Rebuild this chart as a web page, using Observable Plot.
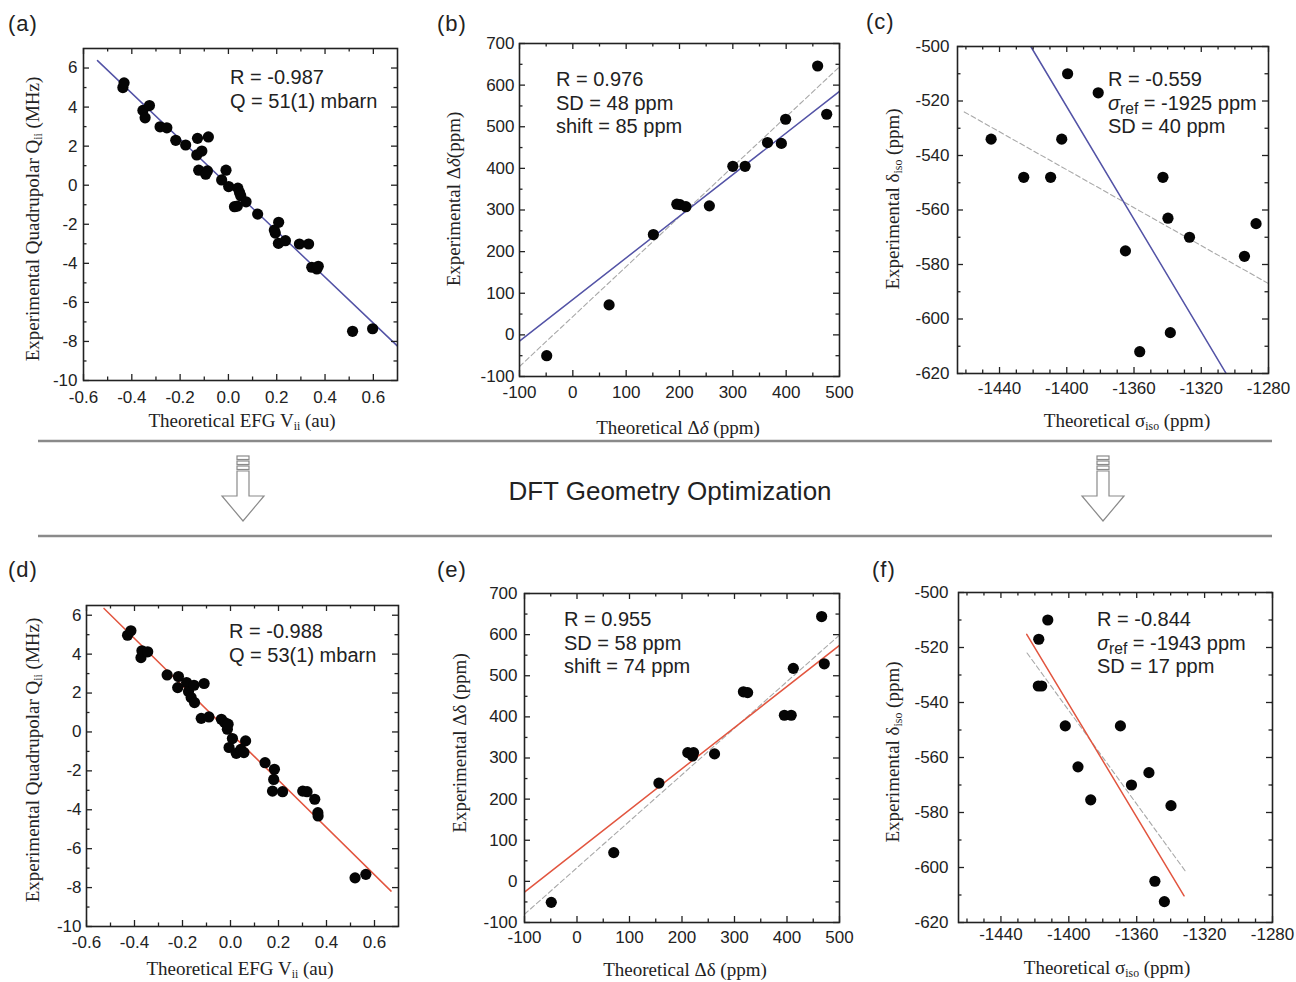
<!DOCTYPE html>
<html>
<head>
<meta charset="utf-8">
<script src="https://cdn.jsdelivr.net/npm/d3@7"></script>
<script src="https://cdn.jsdelivr.net/npm/@observablehq/plot@0.6"></script>
<style>
  html, body { margin: 0; padding: 0; background: #fff; }
  #fig { position: relative; width: 1296px; height: 982px; overflow: hidden;
         font-family: "Liberation Sans", Arial, sans-serif; color: #222; }
  .abs { position: absolute; white-space: nowrap; line-height: 1; }
  .ttl { font-family: "Liberation Serif", "Times New Roman", serif; font-size: 19px; }
  .ann { font-size: 20px; line-height: 23.5px; }
  .pl  { font-size: 22px; letter-spacing: 1px; }
  .c   { transform: translate(-50%, -50%); }
  .rot { transform: translate(-50%, -50%) rotate(-90deg); }
  sub  { font-size: 0.62em; vertical-align: -0.3em; line-height: 0; }
  .ann sub { font-size: 0.78em; vertical-align: -0.25em; }
</style>
</head>
<body>
<div id="fig"></div>
<script>
// ---- Tick values -------------------------------------------------------
const efgMajor = [-0.6, -0.4, -0.2, 0, 0.2, 0.4, 0.6];
const efgMinor = [-0.5, -0.3, -0.1, 0.1, 0.3, 0.5];
const quadMajor = [-10, -8, -6, -4, -2, 0, 2, 4, 6];
const quadMinor = [-9, -7, -5, -3, -1, 1, 3, 5];
const thShiftMajor = [-100, 0, 100, 200, 300, 400, 500];
const thShiftMinor = [-50, 50, 150, 250, 350, 450];
const expShiftMajor = [-100, 0, 100, 200, 300, 400, 500, 600, 700];
const expShiftMinor = [-50, 50, 150, 250, 350, 450, 550, 650];
const sigmaMajor = [-1440, -1400, -1360, -1320, -1280];
const sigmaMinor = [-1460, -1450, -1430, -1420, -1410, -1390, -1380, -1370, -1350, -1340, -1330, -1310, -1300, -1290];
const deltaMajor = [-620, -600, -580, -560, -540, -520, -500];
const deltaMinor = [-610, -590, -570, -550, -530, -510];

// ---- (a) quadrupolar couplings vs EFG, initial geometry -------------------
const efgA = [-0.437, -0.432, -0.354, -0.345, -0.327, -0.283, -0.255, -0.218, -0.177, -0.128,
  -0.131, -0.110, -0.123, -0.087, -0.094, -0.083, -0.028, -0.010, 0.001, 0.025,
  0.037, 0.039, 0.046, 0.051, 0.073, 0.121, 0.194, 0.190, 0.208, 0.207,
  0.236, 0.294, 0.332, 0.345, 0.366, 0.372, 0.514, 0.597];
const quadA = [5.00, 5.24, 3.83, 3.45, 4.08, 2.99, 2.94, 2.30, 2.06, 2.40,
  1.55, 1.75, 0.77, 0.73, 0.56, 2.47, 0.27, 0.77, -0.07, -1.10,
  -1.07, -0.15, -0.37, -0.54, -0.85, -1.48, -2.45, -2.30, -1.90, -2.98,
  -2.84, -3.01, -3.01, -4.20, -4.29, -4.15, -7.48, -7.35];
const fitAx = [-0.542, 0.70];
const fitAy = [6.38, -8.24];

// ---- (b) span vs theoretical span, initial geometry ----------------------
const spanThB = [-49, 68, 151, 195, 201, 212, 256, 300, 323, 365, 391, 399, 459, 476];
const spanExpB = [-50, 72, 241, 314, 313, 308, 310, 405, 405, 462, 460, 518, 646, 530];
const fitBx = [-100, 500];
const fitBy = [-15, 585];
const regBx = [-100, 500];
const regBy = [-76, 644];

// ---- (c) isotropic shift vs shielding, initial geometry ------------------
const sigmaC = [-1445, -1425.6, -1409.6, -1403, -1399.5, -1381.3, -1365.1, -1356.6,
  -1342.8, -1339.8, -1338.4, -1327, -1294.3, -1287.4];
const deltaC = [-534, -548, -548, -534, -510, -517, -575, -612, -548, -563, -605, -570, -577, -565];
const fitCx = [-1421.4, -1305.2];
const fitCy = [-500, -620];
const regCx = [-1461, -1280];
const regCy = [-524, -587];

// ---- (d) quadrupolar couplings vs EFG, optimized geometry ----------------
const efgD = [-0.429, -0.415, -0.373, -0.369, -0.345, -0.264, -0.217, -0.220, -0.183, -0.175,
  -0.164, -0.152, -0.150, -0.110, -0.122, -0.090, -0.038, -0.024, -0.013, -0.010,
  -0.006, 0.008, 0.024, 0.043, 0.056, 0.063, 0.144, 0.183, 0.180, 0.175,
  0.217, 0.301, 0.319, 0.351, 0.364, 0.365, 0.519, 0.564];
const quadD = [4.97, 5.20, 3.82, 4.17, 4.12, 2.93, 2.85, 2.28, 2.54, 2.08,
  1.77, 2.40, 1.51, 2.49, 0.70, 0.77, 0.65, 0.48, 0.14, 0.40,
  -0.80, -0.34, -1.10, -0.90, -1.06, -0.46, -1.58, -1.92, -2.44, -3.04,
  -3.07, -3.04, -3.07, -3.46, -4.15, -4.32, -7.50, -7.32];
const fitDx = [-0.527, 0.669];
const fitDy = [6.35, -8.18];

// ---- (e) span vs theoretical span, optimized geometry --------------------
const spanThE = [-49, 70, 156, 211, 222, 220, 262, 317, 325, 395, 408, 412, 466, 471];
const spanExpE = [-51, 70, 239, 313, 313, 305, 310, 461, 459, 404, 404, 518, 644, 529];
const fitEx = [-100, 500];
const fitEy = [-26, 574];
const regEx = [-100, 500];
const regEy = [-80, 599];

// ---- (f) isotropic shift vs shielding, optimized geometry ----------------
const sigmaF = [-1412.4, -1417.7, -1418, -1416, -1402.1, -1394.6, -1387.1, -1369.6,
  -1363.1, -1352.8, -1339.8, -1349.3, -1343.7];
const deltaF = [-510, -517, -534, -534, -548.5, -563.4, -575.4, -548.5, -570, -565.5, -577.5, -605, -612.4];
const fitFx = [-1424.8, -1332.1];
const fitFy = [-515.2, -610.3];
const regFx = [-1424.6, -1331.5];
const regFy = [-522, -601.2];

// ---- Styling -----------------------------------------------------------
const BLUE = "#5353a6";
const RED = "#e2553f";
const GRAY = "#a8a8a8";
const INK = "#222";
const fix1 = d => d.toFixed(1);
const int = d => String(d);

const fig = document.getElementById("fig");
const zip = (xs, ys) => xs.map((x, i) => ({x, y: ys[i]}));

function drawPanel(p) {
  const mL = 70, mR = 14, mT = 14, mB = 40;
  const w = p.box.r - p.box.l, h = p.box.b - p.box.t;
  const marks = [];
  for (const ln of p.lines) {
    marks.push(Plot.line(zip(ln.x, ln.y), {
      x: "x", y: "y", stroke: ln.color, strokeWidth: ln.width,
      strokeDasharray: ln.dash, clip: true
    }));
  }
  marks.push(Plot.dot(zip(p.x, p.y), {x: "x", y: "y", r: 5.6, fill: "#050505", stroke: "none"}));
  // inward major/minor ticks on all four sides (rules trimmed with insets)
  const tk = {stroke: INK, strokeWidth: 1.3};
  for (const [ticks, size] of [[p.xMajor, 6], [p.xMinor, 3.5]]) {
    marks.push(Plot.ruleX(ticks, {x: d => d, insetTop: h - size, ...tk}));
    marks.push(Plot.ruleX(ticks, {x: d => d, insetBottom: h - size, ...tk}));
  }
  for (const [ticks, size] of [[p.yMajor, 6], [p.yMinor, 3.5]]) {
    marks.push(Plot.ruleY(ticks, {y: d => d, insetRight: w - size, ...tk}));
    marks.push(Plot.ruleY(ticks, {y: d => d, insetLeft: w - size, ...tk}));
  }
  // tick labels
  marks.push(Plot.axisX(p.xMajor, {anchor: "bottom", tickSize: 0, tickPadding: p.xPad, tickFormat: p.fx,
    fill: INK, label: null, fontSize: 17}));
  marks.push(Plot.axisY(p.yMajor, {anchor: "left", tickSize: 0, tickPadding: p.yPad, tickFormat: p.fy,
    fill: INK, label: null, fontSize: 17}));
  marks.push(Plot.frame({stroke: INK, strokeWidth: 1.6}));

  const svg = Plot.plot({
    width: w + mL + mR, height: h + mT + mB,
    marginLeft: mL, marginRight: mR, marginTop: mT, marginBottom: mB,
    x: {domain: p.xd}, y: {domain: p.yd},
    style: {fontFamily: '"Liberation Sans", Arial, sans-serif', fontSize: "17px", color: INK,
            background: "transparent", overflow: "visible"},
    marks
  });
  svg.style.position = "absolute";
  svg.style.left = (p.box.l - mL) + "px";
  svg.style.top = (p.box.t - mT) + "px";
  svg.style.maxWidth = "none";
  fig.appendChild(svg);
}

const efgCommon = {xd: [-0.6, 0.7], xMajor: efgMajor, xMinor: efgMinor, yMajor: quadMajor, yMinor: quadMinor, fx: fix1, fy: int};
const spanCommon = {xd: [-100, 500], yd: [-100, 700], xMajor: thShiftMajor, xMinor: thShiftMinor, yMajor: expShiftMajor, yMinor: expShiftMinor, fx: int, fy: int};
const isoCommon = {xd: [-1465, -1280], yd: [-620, -500], xMajor: sigmaMajor, xMinor: sigmaMinor, yMajor: deltaMajor, yMinor: deltaMinor, fx: int, fy: int};

drawPanel({...efgCommon, box: {l: 83, r: 397, t: 48, b: 380}, yd: [-10, 7], xPad: 10, yPad: 6,
  x: efgA, y: quadA, lines: [{x: fitAx, y: fitAy, color: BLUE, width: 1.5}]});
drawPanel({...spanCommon, box: {l: 519, r: 839, t: 43, b: 376}, xPad: 9, yPad: 5,
  x: spanThB, y: spanExpB, lines: [
    {x: regBx, y: regBy, color: GRAY, width: 1.1, dash: "5,3"},
    {x: fitBx, y: fitBy, color: BLUE, width: 1.5}]});
drawPanel({...isoCommon, box: {l: 957, r: 1268, t: 46, b: 373}, xPad: 8, yPad: 8,
  x: sigmaC, y: deltaC, lines: [
    {x: regCx, y: regCy, color: GRAY, width: 1.1, dash: "5,3"},
    {x: fitCx, y: fitCy, color: BLUE, width: 1.5}]});
drawPanel({...efgCommon, box: {l: 86, r: 398, t: 605, b: 926}, yd: [-10, 6.5], xPad: 9, yPad: 5,
  x: efgD, y: quadD, lines: [{x: fitDx, y: fitDy, color: RED, width: 1.5}]});
drawPanel({...spanCommon, box: {l: 524, r: 839, t: 593, b: 922}, xPad: 8, yPad: 7,
  x: spanThE, y: spanExpE, lines: [
    {x: regEx, y: regEy, color: GRAY, width: 1.1, dash: "5,3"},
    {x: fitEx, y: fitEy, color: RED, width: 1.5}]});
drawPanel({...isoCommon, box: {l: 958, r: 1272, t: 592, b: 922}, xPad: 5, yPad: 10,
  x: sigmaF, y: deltaF, lines: [
    {x: regFx, y: regFy, color: GRAY, width: 1.1, dash: "5,3"},
    {x: fitFx, y: fitFy, color: RED, width: 1.5}]});

// ---- Text: panel letters, axis titles, fit statistics --------------------
function addText(html, x, y, cls) {
  const el = document.createElement("div");
  el.className = "abs " + cls;
  el.style.left = x + "px";
  el.style.top = y + "px";
  el.innerHTML = html;
  fig.appendChild(el);
}
const panelLetters = [["(a)", 8, 13], ["(b)", 437, 13], ["(c)", 866, 11], ["(d)", 8, 559], ["(e)", 437, 559], ["(f)", 872, 559]];
for (const [t, x, y] of panelLetters) addText(t, x, y, "pl");

addText("Theoretical EFG V<sub>ii</sub> (au)", 242, 420, "ttl c");
addText("Theoretical &Delta;<i>&delta;</i> (ppm)", 678, 427, "ttl c");
addText("Theoretical &sigma;<sub>iso</sub> (ppm)", 1127, 420, "ttl c");
addText("Theoretical EFG V<sub>ii</sub> (au)", 240, 968, "ttl c");
addText("Theoretical &Delta;&delta; (ppm)", 685, 969, "ttl c");
addText("Theoretical &sigma;<sub>iso</sub> (ppm)", 1107, 967, "ttl c");

addText("Experimental Quadrupolar Q<sub>ii</sub> (MHz)", 32, 219, "ttl rot");
addText("Experimental &Delta;<i>&delta;</i>(ppm)", 453, 199, "ttl rot");
addText("Experimental &delta;<sub>iso</sub> (ppm)", 892, 199, "ttl rot");
addText("Experimental Quadrupolar Q<sub>ii</sub> (MHz)", 32, 760, "ttl rot");
addText("Experimental &Delta;&delta; (ppm)", 459, 743, "ttl rot");
addText("Experimental &delta;<sub>iso</sub> (ppm)", 892, 752, "ttl rot");

addText("R = -0.987<br>Q = 51(1) mbarn", 230, 66, "ann");
addText("R = 0.976<br>SD = 48 ppm<br>shift = 85 ppm", 556, 68, "ann");
addText("R = -0.559<br><i>&sigma;</i><sub>ref</sub> = -1925 ppm<br>SD = 40 ppm", 1108, 68, "ann");
addText("R = -0.988<br>Q = 53(1) mbarn", 229, 620, "ann");
addText("R = 0.955<br>SD = 58 ppm<br>shift = 74 ppm", 564, 608, "ann");
addText("R = -0.844<br><i>&sigma;</i><sub>ref</sub> = -1943 ppm<br>SD = 17 ppm", 1097, 608, "ann");

// ---- Middle band: separators, arrows and step caption ---------------------
const band = d3.create("svg").attr("width", 1296).attr("height", 982)
  .style("position", "absolute").style("left", "0px").style("top", "0px")
  .style("pointer-events", "none");
for (const y of [441, 536]) {
  band.append("line").attr("x1", 38).attr("x2", 1272).attr("y1", y).attr("y2", y)
    .attr("stroke", "#8a8a8a").attr("stroke-width", 2.4);
}
for (const cx of [243, 1103]) {
  const g = band.append("g").attr("fill", "#fff").attr("stroke", "#8a8a8a").attr("stroke-width", 1.2);
  for (const y0 of [456, 461, 466]) {
    g.append("rect").attr("x", cx - 6).attr("y", y0).attr("width", 12).attr("height", 3.5);
  }
  g.append("path").attr("d",
    `M${cx - 6},471 L${cx + 6},471 L${cx + 6},496 L${cx + 21},496 L${cx},521 L${cx - 21},496 L${cx - 6},496 Z`);
}
band.append("text").attr("x", 670).attr("y", 500).attr("text-anchor", "middle")
  .attr("font-family", '"Liberation Sans", Arial, sans-serif').attr("font-size", 26)
  .attr("fill", "#222").text("DFT Geometry Optimization");
fig.appendChild(band.node());
</script>
</body>
</html>
